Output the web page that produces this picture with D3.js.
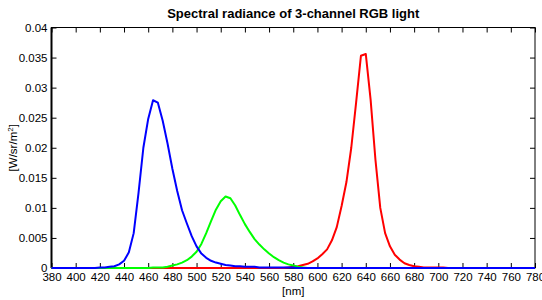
<!DOCTYPE html>
<html>
<head>
<meta charset="utf-8">
<script src="https://cdn.jsdelivr.net/npm/d3@7"></script>
<style>
  body { margin: 0; background: #fff; }
  text { font-family: "Liberation Sans", Arial, sans-serif; }
</style>
</head>
<body>
<div id="chart-area"></div>
<script>
// wavelengths in nm (4 nm sampling)
var wavelengths = [380,384,388,392,396,400,404,408,412,416,420,424,428,432,436,440,444,448,452,456,
  460,464,468,472,476,480,484,488,492,496,500,504,508,512,516,520,524,528,532,536,
  540,544,548,552,556,560,564,568,572,576,580,584,588,592,596,600,604,608,612,616,
  620,624,628,632,636,640,644,648,652,656,660,664,668,672,676,680,684,688,692,696,
  700,704,708,712,716,720,724,728,732,736,740,744,748,752,756,760,764,768,772,776,780];

var redValues = [0,0,0,0,0,0,0,0,0,0,0,0,0,0,0,0,0,0,0,0,
  0,0,0,0,0,0,0,0,0,0,0,0,0,0,0,0,0,0,0,0,
  0,0,0,0,0,0,0,0,0,0.0001,0.0002,0.0003,0.0005,0.0007,0.0011,0.0016,0.0023,0.0031,0.0046,0.0068,
  0.0103,0.0143,0.0200,0.0275,0.0353,0.0356,0.0280,0.0180,0.0100,0.0058,0.0036,0.0022,0.0014,0.0008,0.0005,0.0003,0.0002,0.0001,0.0001,0.0001,
  0.0001,0.0001,0,0,0,0,0,0,0,0,0,0,0,0,0,0,0,0,0,0,0];

var greenValues = [0,0,0,0,0,0,0,0,0,0,0,0,0,0,0,0,0,0,0,0,
  0,0.0001,0.0001,0.0001,0.0002,0.0004,0.0006,0.0009,0.0013,0.0019,0.0027,0.0040,0.0058,0.0078,0.0097,0.0111,0.0119,0.0116,0.0104,0.0088,
  0.0073,0.0060,0.0048,0.0039,0.0031,0.0024,0.0018,0.0013,0.0009,0.0006,0.0004,0.0002,0.0001,0,0,0,0,0,0,0,
  0,0,0,0,0,0,0,0,0,0,0,0,0,0,0,0,0,0,0,0,
  0,0,0,0,0,0,0,0,0,0,0,0,0,0,0,0,0,0,0,0,0];

var blueValues = [0,0,0,0,0,0,0,0,0,0,0.0001,0.0001,0.0002,0.0003,0.0006,0.0012,0.0026,0.0058,0.0125,0.0200,
  0.0248,0.0279,0.0275,0.0245,0.0207,0.0165,0.0128,0.0096,0.0074,0.0053,0.0036,0.0024,0.0017,0.0012,0.0009,0.0007,0.0005,0.0004,0.0003,0.0003,
  0.0002,0.0002,0.0002,0.0001,0.0001,0.0001,0.0001,0.0001,0.0001,0.0001,0.0001,0,0,0,0,0,0,0,0,0,
  0,0,0,0,0,0,0,0,0,0,0,0,0,0,0,0,0,0,0,0,
  0,0,0,0,0,0,0,0,0,0,0,0,0,0,0,0,0,0,0,0,0];

var xTicks = [380,400,420,440,460,480,500,520,540,560,580,600,620,640,660,680,700,720,740,760,780];
var yTicks = [0,0.005,0.01,0.015,0.02,0.025,0.03,0.035,0.04];
var yTickLabels = ["0","0.005","0.01","0.015","0.02","0.025","0.03","0.035","0.04"];

var series = [
  {name: "R", color: "#ff0000", values: redValues},
  {name: "G", color: "#00ff00", values: greenValues},
  {name: "B", color: "#0000ff", values: blueValues}
];

var width = 542, height = 300;
var plotLeft = 51.5, plotRight = 535, plotTop = 27.5, plotBottom = 268;

var svg = d3.select("#chart-area").append("svg")
  .attr("width", width)
  .attr("height", height);

var x = d3.scaleLinear().domain([380, 780]).range([plotLeft, plotRight]);
var y = d3.scaleLinear().domain([0, 0.04]).range([plotBottom, plotTop]);

// axes (ticks pointing inward, on all four sides)
var xAxis = svg.append("g")
  .attr("transform", "translate(0," + plotBottom + ")")
  .call(d3.axisBottom(x).tickValues(xTicks).tickSizeInner(-5).tickSizeOuter(0).tickPadding(5));
var xTop = svg.append("g")
  .attr("transform", "translate(0," + plotTop + ")")
  .call(d3.axisTop(x).tickValues(xTicks).tickSizeInner(-5).tickSizeOuter(0).tickFormat(""));
var yAxis = svg.append("g")
  .attr("transform", "translate(" + plotLeft + ",0)")
  .call(d3.axisLeft(y).tickValues(yTicks).tickSizeInner(-5).tickSizeOuter(0).tickPadding(4)
    .tickFormat((d, i) => yTickLabels[i]));
var yRight = svg.append("g")
  .attr("transform", "translate(" + plotRight + ",0)")
  .call(d3.axisRight(y).tickValues(yTicks).tickSizeInner(-5).tickSizeOuter(0).tickFormat(""));

[xAxis, xTop, yAxis, yRight].forEach((g) => {
  g.select(".domain").remove();
  g.selectAll(".tick line").attr("stroke", "#000").attr("stroke-width", 1);
  g.selectAll(".tick text").attr("fill", "#000").style("font-size", "11.5px")
    .style("font-family", "'Liberation Sans', Arial, sans-serif");
});

// box
svg.append("rect")
  .attr("x", plotLeft).attr("y", plotTop)
  .attr("width", plotRight - plotLeft).attr("height", plotBottom - plotTop)
  .attr("fill", "none").attr("stroke", "#000").attr("stroke-width", 1);
svg.append("line")
  .attr("x1", plotLeft).attr("x2", plotLeft).attr("y1", plotTop).attr("y2", plotBottom)
  .attr("stroke", "#000").attr("stroke-width", 2);
svg.append("line")
  .attr("x1", plotLeft).attr("x2", plotRight).attr("y1", plotBottom).attr("y2", plotBottom)
  .attr("stroke", "#000").attr("stroke-width", 1.5);

// curves, drawn over the frame
var line = d3.line()
  .x((d, i) => x(wavelengths[i]))
  .y((d) => y(d));

svg.selectAll("path.curve").data(series)
  .enter().append("path")
  .attr("class", "curve")
  .attr("d", (d) => line(d.values))
  .attr("fill", "none")
  .attr("stroke", (d) => d.color)
  .attr("stroke-width", 2)
  .attr("stroke-linejoin", "round");

// title and labels
svg.append("text")
  .attr("x", (plotLeft + plotRight) / 2).attr("y", 18)
  .attr("text-anchor", "middle")
  .style("font-size", "13px").style("font-weight", "bold")
  .text("Spectral radiance of 3-channel RGB light");

svg.append("text")
  .attr("x", (plotLeft + plotRight) / 2).attr("y", 295)
  .attr("text-anchor", "middle")
  .style("font-size", "11.5px")
  .text("[nm]");

var yl = svg.append("text")
  .attr("transform", "translate(17," + ((plotTop + plotBottom) / 2) + ") rotate(-90)")
  .attr("text-anchor", "middle")
  .style("font-size", "11.5px");
yl.append("tspan").text("[W/sr/m");
yl.append("tspan").attr("dy", -4).style("font-size", "8px").text("2");
yl.append("tspan").attr("dy", 4).text("]");
</script>
</body>
</html>
